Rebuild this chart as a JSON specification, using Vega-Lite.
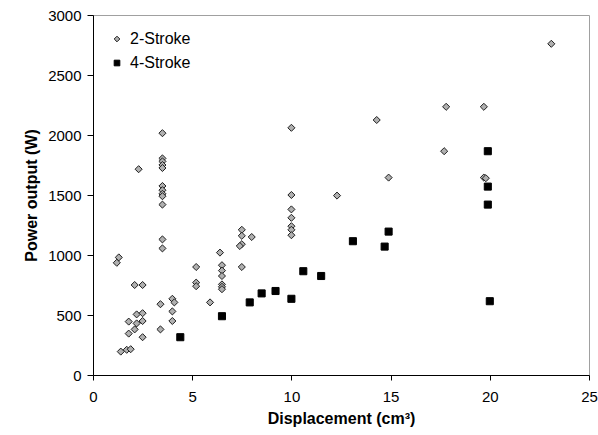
{
  "$schema": "https://vega.github.io/schema/vega-lite/v6.json",
  "width": 496,
  "height": 360,
  "autosize": {"type": "none"},
  "padding": {"left": 93, "top": 15, "right": 9, "bottom": 60},
  "config": {
    "view": {"stroke": "#a0a0a0", "strokeWidth": 1},
    "font": "Liberation Sans",
    "axis": {"grid": false, "domainColor": "#000000", "tickColor": "#000000", "labelColor": "#000000", "titleColor": "#000000", "labelFont": "Liberation Sans", "titleFont": "Liberation Sans", "labelFontSize": 15, "titleFontSize": 16, "titleFontWeight": "bold"},
    "legend": {"labelFontSize": 16, "labelFont": "Liberation Sans", "labelColor": "#000000", "symbolSize": 32, "symbolStrokeWidth": 1, "rowPadding": 8, "labelOffset": 5}
  },
  "data": {
    "values": [
      {"disp": 1.3, "power": 980, "engine": "2-Stroke"},
      {"disp": 1.2, "power": 935, "engine": "2-Stroke"},
      {"disp": 1.4, "power": 195, "engine": "2-Stroke"},
      {"disp": 1.7, "power": 210, "engine": "2-Stroke"},
      {"disp": 1.9, "power": 215, "engine": "2-Stroke"},
      {"disp": 1.8, "power": 345, "engine": "2-Stroke"},
      {"disp": 1.8, "power": 445, "engine": "2-Stroke"},
      {"disp": 2.1, "power": 380, "engine": "2-Stroke"},
      {"disp": 2.2, "power": 430, "engine": "2-Stroke"},
      {"disp": 2.2, "power": 505, "engine": "2-Stroke"},
      {"disp": 2.5, "power": 515, "engine": "2-Stroke"},
      {"disp": 2.5, "power": 450, "engine": "2-Stroke"},
      {"disp": 2.5, "power": 315, "engine": "2-Stroke"},
      {"disp": 2.1, "power": 750, "engine": "2-Stroke"},
      {"disp": 2.5, "power": 750, "engine": "2-Stroke"},
      {"disp": 2.3, "power": 1715, "engine": "2-Stroke"},
      {"disp": 3.5, "power": 2015, "engine": "2-Stroke"},
      {"disp": 3.5, "power": 1805, "engine": "2-Stroke"},
      {"disp": 3.5, "power": 1780, "engine": "2-Stroke"},
      {"disp": 3.5, "power": 1750, "engine": "2-Stroke"},
      {"disp": 3.5, "power": 1725, "engine": "2-Stroke"},
      {"disp": 3.5, "power": 1575, "engine": "2-Stroke"},
      {"disp": 3.5, "power": 1540, "engine": "2-Stroke"},
      {"disp": 3.5, "power": 1510, "engine": "2-Stroke"},
      {"disp": 3.5, "power": 1490, "engine": "2-Stroke"},
      {"disp": 3.5, "power": 1420, "engine": "2-Stroke"},
      {"disp": 3.5, "power": 1130, "engine": "2-Stroke"},
      {"disp": 3.5, "power": 1055, "engine": "2-Stroke"},
      {"disp": 3.4, "power": 590, "engine": "2-Stroke"},
      {"disp": 3.4, "power": 380, "engine": "2-Stroke"},
      {"disp": 4.0, "power": 635, "engine": "2-Stroke"},
      {"disp": 4.1, "power": 605, "engine": "2-Stroke"},
      {"disp": 4.0, "power": 530, "engine": "2-Stroke"},
      {"disp": 4.0, "power": 450, "engine": "2-Stroke"},
      {"disp": 5.2, "power": 900, "engine": "2-Stroke"},
      {"disp": 5.2, "power": 770, "engine": "2-Stroke"},
      {"disp": 5.2, "power": 740, "engine": "2-Stroke"},
      {"disp": 5.9, "power": 605, "engine": "2-Stroke"},
      {"disp": 6.4, "power": 1020, "engine": "2-Stroke"},
      {"disp": 6.5, "power": 915, "engine": "2-Stroke"},
      {"disp": 6.5, "power": 870, "engine": "2-Stroke"},
      {"disp": 6.5, "power": 825, "engine": "2-Stroke"},
      {"disp": 6.5, "power": 755, "engine": "2-Stroke"},
      {"disp": 6.5, "power": 735, "engine": "2-Stroke"},
      {"disp": 6.5, "power": 715, "engine": "2-Stroke"},
      {"disp": 7.5, "power": 1210, "engine": "2-Stroke"},
      {"disp": 7.5, "power": 1160, "engine": "2-Stroke"},
      {"disp": 7.5, "power": 1090, "engine": "2-Stroke"},
      {"disp": 7.4, "power": 1075, "engine": "2-Stroke"},
      {"disp": 7.5, "power": 900, "engine": "2-Stroke"},
      {"disp": 8.0, "power": 1150, "engine": "2-Stroke"},
      {"disp": 10.0, "power": 2060, "engine": "2-Stroke"},
      {"disp": 10.0, "power": 1500, "engine": "2-Stroke"},
      {"disp": 10.0, "power": 1380, "engine": "2-Stroke"},
      {"disp": 10.0, "power": 1310, "engine": "2-Stroke"},
      {"disp": 10.0, "power": 1240, "engine": "2-Stroke"},
      {"disp": 10.0, "power": 1210, "engine": "2-Stroke"},
      {"disp": 10.0, "power": 1165, "engine": "2-Stroke"},
      {"disp": 12.3, "power": 1495, "engine": "2-Stroke"},
      {"disp": 14.3, "power": 2125, "engine": "2-Stroke"},
      {"disp": 14.9, "power": 1645, "engine": "2-Stroke"},
      {"disp": 17.7, "power": 1865, "engine": "2-Stroke"},
      {"disp": 17.8, "power": 2235, "engine": "2-Stroke"},
      {"disp": 19.7, "power": 2235, "engine": "2-Stroke"},
      {"disp": 19.7, "power": 1645, "engine": "2-Stroke"},
      {"disp": 19.8, "power": 1640, "engine": "2-Stroke"},
      {"disp": 23.1, "power": 2760, "engine": "2-Stroke"},
      {"disp": 4.4, "power": 315, "engine": "4-Stroke"},
      {"disp": 6.5, "power": 490, "engine": "4-Stroke"},
      {"disp": 7.9, "power": 605, "engine": "4-Stroke"},
      {"disp": 8.5, "power": 680, "engine": "4-Stroke"},
      {"disp": 9.2, "power": 700, "engine": "4-Stroke"},
      {"disp": 10.0, "power": 635, "engine": "4-Stroke"},
      {"disp": 10.6, "power": 865, "engine": "4-Stroke"},
      {"disp": 11.5, "power": 825, "engine": "4-Stroke"},
      {"disp": 13.1, "power": 1115, "engine": "4-Stroke"},
      {"disp": 14.7, "power": 1070, "engine": "4-Stroke"},
      {"disp": 14.9, "power": 1195, "engine": "4-Stroke"},
      {"disp": 19.9, "power": 1865, "engine": "4-Stroke"},
      {"disp": 19.9, "power": 1570, "engine": "4-Stroke"},
      {"disp": 19.9, "power": 1420, "engine": "4-Stroke"},
      {"disp": 20.0, "power": 615, "engine": "4-Stroke"}
    ]
  },
  "mark": {"type": "point", "filled": true, "strokeWidth": 1, "opacity": 1, "size": 50},
  "encoding": {
    "x": {
      "field": "disp", "type": "quantitative",
      "scale": {"domain": [0, 25], "nice": false, "zero": true},
      "axis": {"values": [0, 5, 10, 15, 20, 25], "title": "Displacement (cm³)", "tickSize": 5, "labelPadding": 9, "titlePadding": 6, "labelFlush": false}
    },
    "y": {
      "field": "power", "type": "quantitative",
      "scale": {"domain": [0, 3000], "nice": false},
      "axis": {"values": [0, 500, 1000, 1500, 2000, 2500, 3000], "format": "d", "title": "Power output (W)", "tickSize": 6, "labelPadding": 6, "titlePadding": 8, "labelFlush": false}
    },
    "shape": {
      "field": "engine", "type": "nominal",
      "scale": {"domain": ["2-Stroke", "4-Stroke"], "range": ["diamond", "square"]},
      "legend": {"title": null, "orient": "top-left", "offset": 16}
    },
    "fill": {
      "field": "engine", "type": "nominal",
      "scale": {"domain": ["2-Stroke", "4-Stroke"], "range": ["#b0b0b0", "#000000"]},
      "legend": {"title": null, "orient": "top-left", "offset": 16}
    },
    "stroke": {
      "field": "engine", "type": "nominal",
      "scale": {"domain": ["2-Stroke", "4-Stroke"], "range": ["#1e1e1e", "#000000"]},
      "legend": {"title": null, "orient": "top-left", "offset": 16}
    }
  }
}
